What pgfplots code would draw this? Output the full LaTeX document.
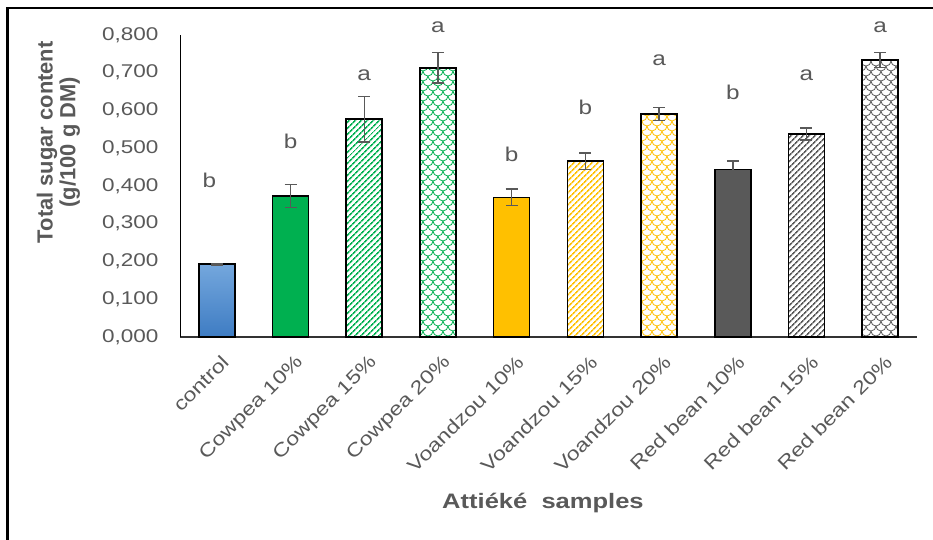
\documentclass[border=0pt]{standalone}
\usepackage{fontspec}
\setmainfont{Liberation Sans}
\newfontfamily\wide[FakeStretch=1.22]{Liberation Sans}
\usepackage{pgfplots}
\pgfplotsset{compat=1.18}
\usetikzlibrary{patterns.meta}
\definecolor{txt}{HTML}{595959}
\definecolor{cblueT}{HTML}{74A7DD}
\definecolor{cblueB}{HTML}{3E7CC3}
\definecolor{cgreen}{HTML}{00B050}
\definecolor{cyellow}{HTML}{FFC000}
\definecolor{cdark}{HTML}{595959}
\tikzdeclarepattern{
  name=scallop, type=uncolored,
  bounding box={(0pt,0pt) and (10pt,10pt)},
  tile size={(10pt,10pt)},
  code={
    \draw[line width=0.8pt] (0pt,5pt) arc[start angle=180,end angle=360,radius=5pt];
    \draw[line width=0.8pt] (0pt,5pt) arc[start angle=270,end angle=360,radius=5pt];
    \draw[line width=0.8pt] (5pt,10pt) arc[start angle=180,end angle=270,radius=5pt];
  }
}
\begin{document}
\begin{tikzpicture}[x=1bp,y=1bp]
\path[use as bounding box] (0,0) rectangle (933,540);
\draw[line width=2.5bp] (7.5,0) -- (7.5,532) -- (933,532);
\begin{axis}[
  at={(180bp,203bp)}, anchor=south west,
  scale only axis, width=737bp, height=302bp,
  xmin=-0.5, xmax=9.5, ymin=0, ymax=0.8,
  clip=false,
  axis lines*=left,
  axis line style={line width=1pt, black},
  x axis line style={line width=1.4pt, black!80},
  major tick length=0pt,
  ytick={0,0.1,0.2,0.3,0.4,0.5,0.6,0.7,0.8},
  yticklabel style={font=\wide\fontsize{18.5}{21}\selectfont, text=txt, xshift=-18bp},
  /pgf/number format/.cd, fixed, fixed zerofill, precision=3, use comma, assume math mode=true,
  /pgfplots/.cd,
  xtick={0,...,9},
  xticklabels={control, Cowpea 10\%, Cowpea 15\%, Cowpea 20\%, Voandzou 10\%, Voandzou 15\%, Voandzou 20\%, Red bean 10\%, Red bean 15\%, Red bean 20\%},
  xticklabel style={font=\wide\fontsize{19}{21}\selectfont, text=txt, rotate=45, anchor=north east, xshift=-6bp, yshift=-11bp},
  ylabel={Total sugar content\\(g/100 g DM)},
  ylabel style={at={(axis description cs:-0.165,0.645)}, anchor=center, align=center, font=\fontsize{22}{23}\selectfont\bfseries, text=txt},
  xlabel={Attiéké\ \ samples},
  xlabel style={at={(axis description cs:0.4925,-0.55)}, anchor=center, font=\wide\fontsize{21}{23}\selectfont\bfseries, text=txt},
  ybar, bar width=36bp, bar shift=0pt,
  every axis plot/.append style={draw=black, line width=1.6pt},
  error bars/y dir=both, error bars/y explicit,
  error bars/error bar style={line width=1.5pt, cdark},
  error bars/error mark options={rotate=90, mark size=6bp, line width=1.5pt, cdark},
]
\addplot[top color=cblueT, bottom color=cblueB] coordinates {(0,0.193) +- (0,0.002)};
\addplot[fill=cgreen] coordinates {(1,0.3735) +- (0,0.03)};
\addplot[fill=white, postaction={pattern={Lines[angle=45,distance=4pt,line width=1.7pt]}, pattern color=cgreen}] coordinates {(2,0.577) +- (0,0.06)};
\addplot[fill=white, postaction={pattern=scallop, pattern color=cgreen}] coordinates {(3,0.713) +- (0,0.04)};
\addplot[fill=cyellow] coordinates {(4,0.370) +- (0,0.022)};
\addplot[fill=white, postaction={pattern={Lines[angle=45,distance=4pt,line width=1.7pt]}, pattern color=cyellow}] coordinates {(5,0.466) +- (0,0.022)};
\addplot[fill=white, postaction={pattern=scallop, pattern color=cyellow}] coordinates {(6,0.591) +- (0,0.017)};
\addplot[fill=cdark] coordinates {(7,0.444) +- (0,0.022)};
\addplot[fill=white, postaction={pattern={Lines[angle=45,distance=4pt,line width=1.7pt]}, pattern color=cdark}] coordinates {(8,0.538) +- (0,0.016)};
\addplot[fill=white, postaction={pattern=scallop, pattern color=cdark}] coordinates {(9,0.734) +- (0,0.02)};
\begin{scope}[every node/.style={font=\wide\fontsize{20}{22}\selectfont, text=txt}]
\node at (axis cs:-0.1,0.416) {b};
\node at (axis cs:1,0.517) {b};
\node at (axis cs:2,0.694) {a};
\node at (axis cs:3,0.821) {a};
\node at (axis cs:4,0.485) {b};
\node at (axis cs:5,0.607) {b};
\node at (axis cs:6,0.734) {a};
\node at (axis cs:7,0.649) {b};
\node at (axis cs:8,0.694) {a};
\node at (axis cs:9,0.821) {a};
\end{scope}
\end{axis}
\end{tikzpicture}
\end{document}
